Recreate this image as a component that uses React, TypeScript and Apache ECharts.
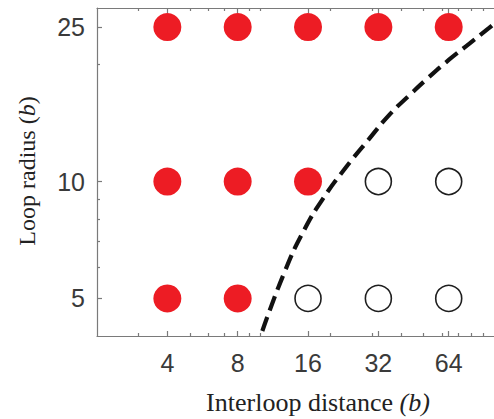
import React, { useEffect, useRef } from 'react';
import * as echarts from 'echarts';

// Tick positions
const xMajorTicks = [4, 8, 16, 32, 64];
const xMinorTicks = [3, 5, 6, 7, 9, 10, 20, 30, 40, 50, 60, 70, 80, 90];
const yMajorTicks = [5, 10, 25];
const yMinorTicks = [6, 7, 8, 9, 20];

// Filled (red) points
const filledX = [4, 8, 16, 32, 64, 4, 8, 16, 4, 8];
const filledY = [25, 25, 25, 25, 25, 10, 10, 10, 5, 5];

// Open points
const openX = [32, 64, 16, 32, 64];
const openY = [10, 10, 5, 5, 5];

// Dashed boundary curve
const curveX = [10.2, 12.7, 15.4, 18.7, 23.3, 28.8, 35.8, 43.5, 51.2, 64.2, 78, 94.7, 100];
const curveY = [4.12, 5.85, 7.5, 9.1, 10.9, 12.75, 14.9, 16.7, 18.3, 20.6, 22.6, 24.8, 25.5];

const AXIS_COLOR = '#7a7a7a';
const LABEL_COLOR = '#3a3a3a';
const SERIF = '"Liberation Serif", "Times New Roman", serif';
const SANS = '"Liberation Sans", Arial, sans-serif';

export default function App() {
  const ref = useRef<HTMLDivElement>(null);

  useEffect(() => {
    if (!ref.current) return;
    const chart = echarts.init(ref.current, null, { renderer: 'svg' });

    const lineStyle = { color: AXIS_COLOR, width: 1.2 };
    const logX = { type: 'log', logBase: 2, min: 2, max: 100, splitLine: { show: false } };
    const logY = { type: 'log', logBase: 10, min: 4, max: 28, splitLine: { show: false } };
    const labelStyle = {
      fontFamily: SANS,
      fontSize: 25,
      color: LABEL_COLOR,
    };

    const option: any = {
      animation: false,
      backgroundColor: '#ffffff',
      grid: { left: 97, top: 8, right: -5, bottom: 83 },
      xAxis: [
        {
          ...logX,
          position: 'bottom',
          axisLine: { show: true, onZero: false, lineStyle },
          axisTick: { show: true, inside: true, length: 5, customValues: xMajorTicks, lineStyle },
          axisLabel: { show: true, customValues: xMajorTicks, margin: 14, ...labelStyle },
        },
        {
          ...logX,
          position: 'bottom',
          axisLine: { show: false, onZero: false },
          axisTick: { show: true, inside: true, length: 3, customValues: xMinorTicks, lineStyle },
          axisLabel: { show: false },
        },
        {
          ...logX,
          position: 'top',
          axisLine: { show: true, onZero: false, lineStyle },
          axisTick: { show: true, inside: true, length: 5, customValues: xMajorTicks, lineStyle },
          axisLabel: { show: false },
        },
        {
          ...logX,
          position: 'top',
          axisLine: { show: false, onZero: false },
          axisTick: { show: true, inside: true, length: 3, customValues: xMinorTicks, lineStyle },
          axisLabel: { show: false },
        },
      ],
      yAxis: [
        {
          ...logY,
          position: 'left',
          axisLine: { show: true, onZero: false, lineStyle },
          axisTick: { show: true, inside: true, length: 5, customValues: yMajorTicks, lineStyle },
          axisLabel: { show: true, customValues: yMajorTicks, margin: 12, ...labelStyle },
        },
        {
          ...logY,
          position: 'left',
          axisLine: { show: false, onZero: false },
          axisTick: { show: true, inside: true, length: 3, customValues: yMinorTicks, lineStyle },
          axisLabel: { show: false },
        },
      ],
      series: [
        {
          type: 'line',
          name: 'boundary',
          data: curveX.map((x, i) => [x, curveY[i]]),
          smooth: 0.5,
          showSymbol: false,
          symbol: 'none',
          lineStyle: { color: '#111111', width: 4.2, type: [15, 7] },
          z: 1,
        },
        {
          type: 'scatter',
          name: 'filled',
          data: filledX.map((x, i) => [x, filledY[i]]),
          symbol: 'circle',
          symbolSize: 28,
          itemStyle: { color: '#ED1C24', opacity: 1 },
          z: 3,
        },
        {
          type: 'scatter',
          name: 'open',
          data: openX.map((x, i) => [x, openY[i]]),
          symbol: 'circle',
          symbolSize: 26,
          itemStyle: { color: 'rgba(0,0,0,0)', borderColor: '#1e1e1e', borderWidth: 1.6, opacity: 1 },
          z: 3,
        },
      ],
      graphic: [
        {
          type: 'text',
          x: 27,
          y: 171,
          rotation: Math.PI / 2,
          style: {
            text: '{n|Loop radius (}{i|b}{n|)}',
            align: 'center',
            verticalAlign: 'middle',
            rich: {
              n: { fontFamily: SERIF, fontSize: 24, fill: '#222' },
              i: { fontFamily: SERIF, fontSize: 24, fontStyle: 'italic', fill: '#222' },
            },
          },
        },
        {
          type: 'text',
          x: 318,
          y: 402,
          style: {
            text: '{n|Interloop distance }{i|(b)}',
            align: 'center',
            verticalAlign: 'middle',
            rich: {
              n: { fontFamily: SERIF, fontSize: 26, fill: '#222' },
              i: { fontFamily: SERIF, fontSize: 26, fontStyle: 'italic', fill: '#222' },
            },
          },
        },
      ],
    };

    chart.setOption(option);
    return () => chart.dispose();
  }, []);

  return (
    <div
      ref={ref}
      style={{ position: 'fixed', left: 0, top: 0, width: 494, height: 419, background: '#fff' }}
    />
  );
}
